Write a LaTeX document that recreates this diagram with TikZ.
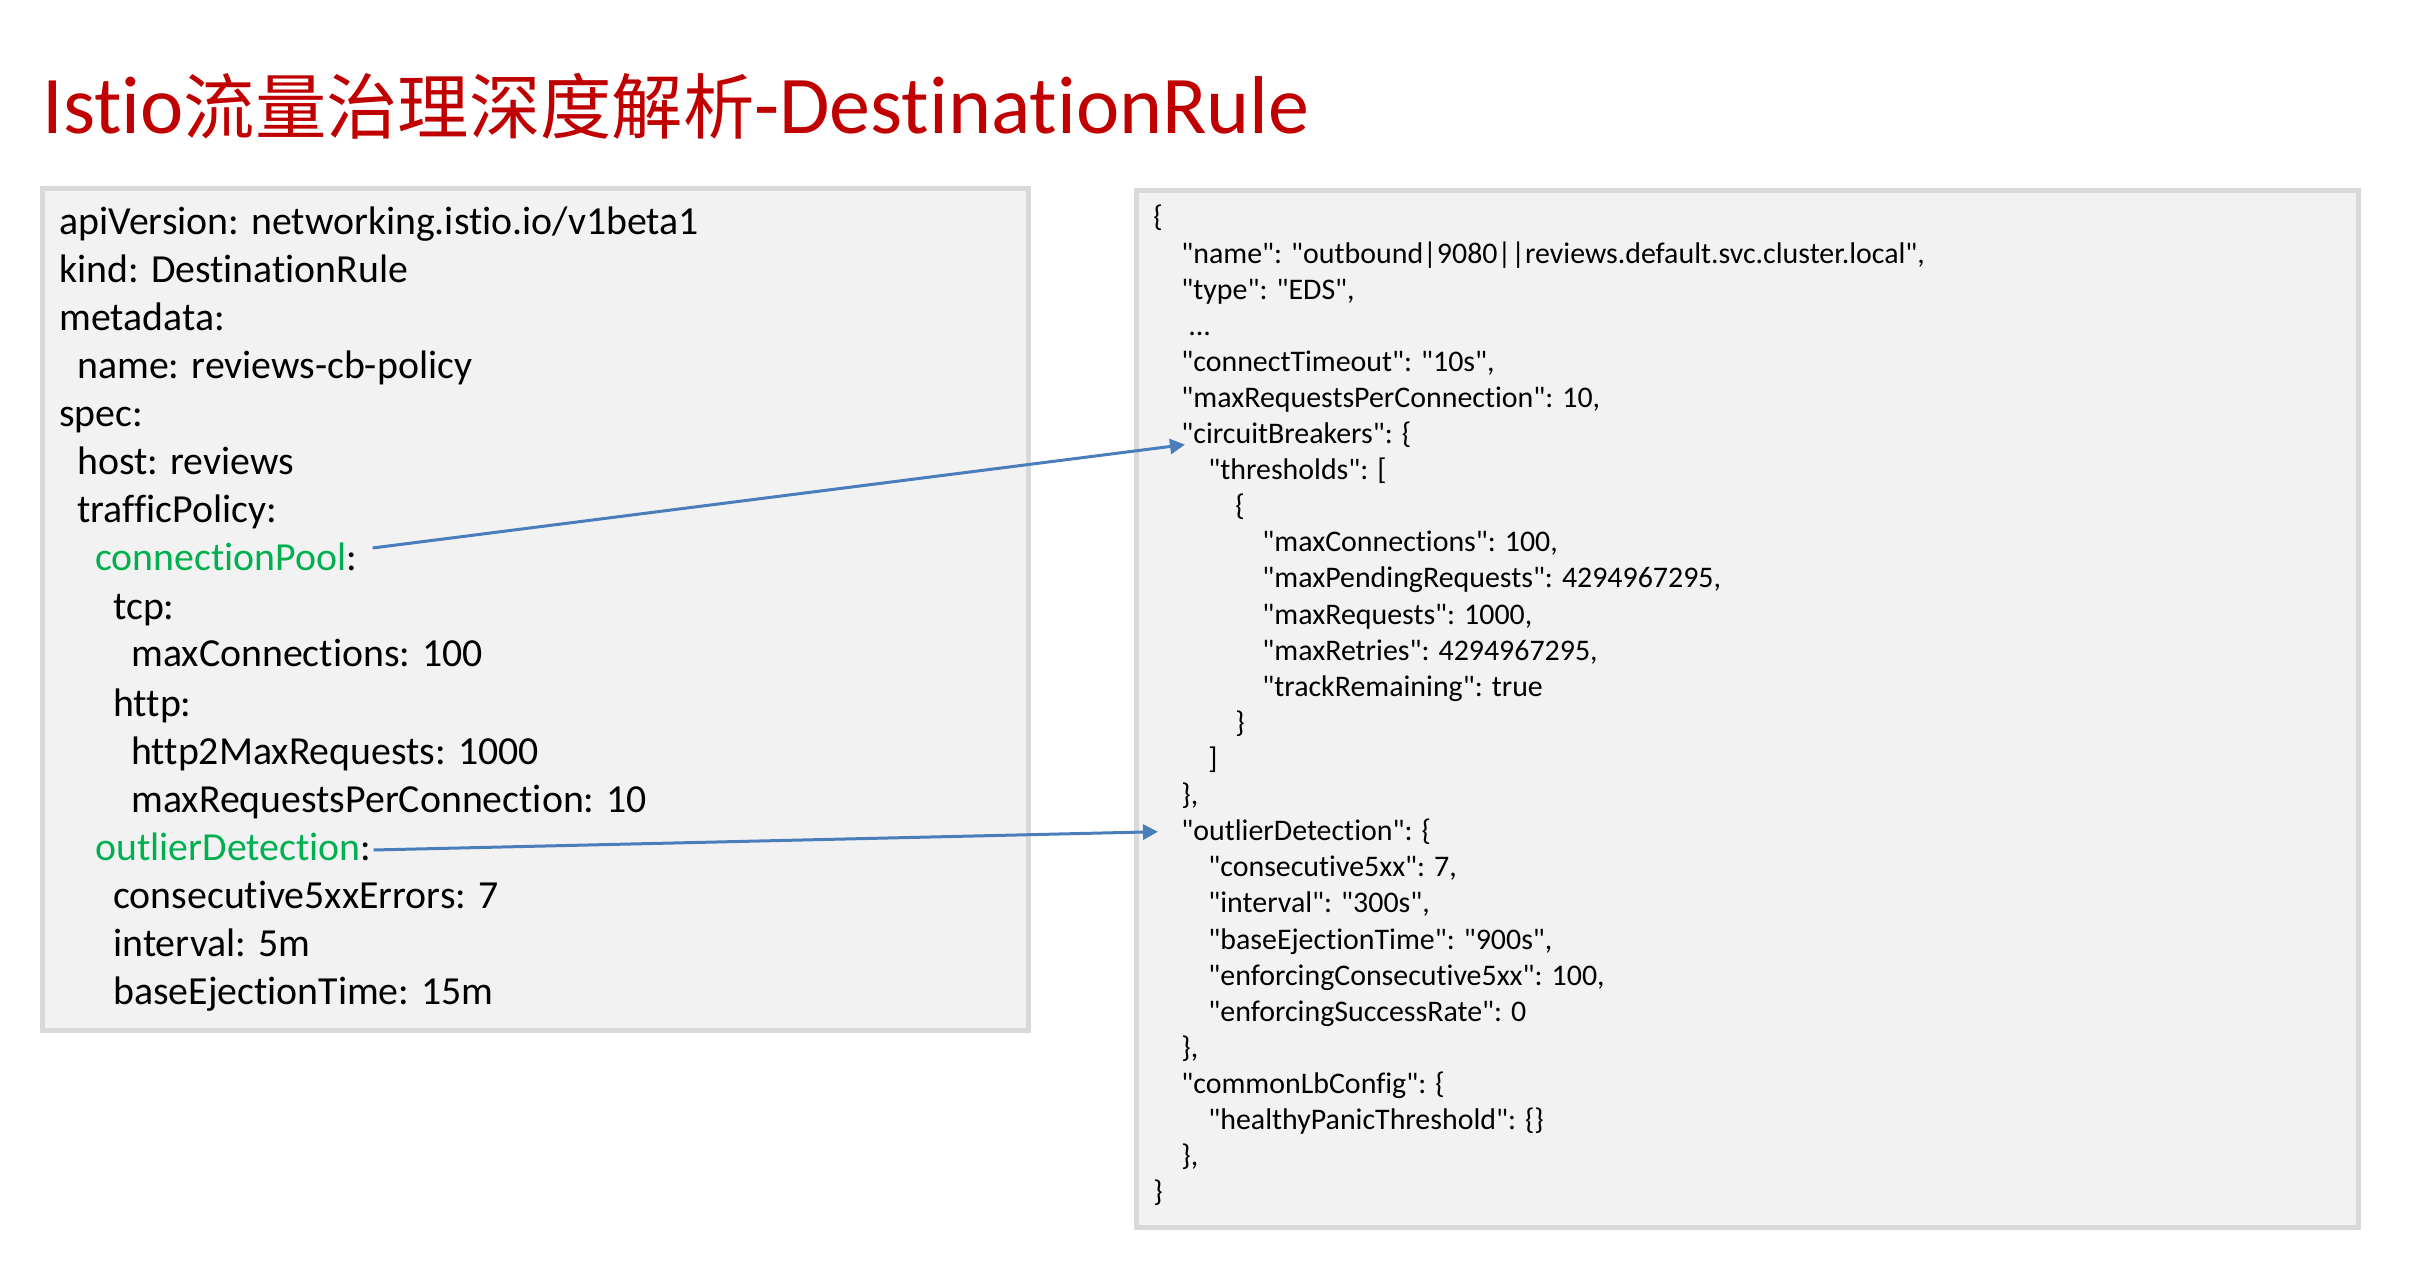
\documentclass[tikz,border=0pt]{standalone}
\usepackage{fontspec}
\setmainfont{Carlito}[Ligatures={TeXOff,NoCommon}]
\newfontfamily\cjk[Scale=0.87]{Noto Sans CJK SC}
\usetikzlibrary{arrows.meta}
\definecolor{titlered}{HTML}{C00000}
\definecolor{keygreen}{HTML}{00B050}
\definecolor{boxgray}{HTML}{F2F2F2}
\definecolor{edgegray}{HTML}{D9D9D9}
\definecolor{linkblue}{HTML}{4A7EBB}
\tikzset{
  yaml/.style={anchor=base west, inner sep=0pt, font=\fontsize{19.9}{23}\selectfont},
  json/.style={anchor=base west, inner sep=0pt, font=\fontsize{14.95}{18}\selectfont},
  codebox/.style={fill=boxgray, draw=edgegray, line width=2.5pt},
  link/.style={linkblue, line width=1.5pt, -{Triangle[length=7.5pt,width=7.5pt]}}
}

\begin{document}
\begin{tikzpicture}[x=0.5pt,y=-0.5pt]
    \useasboundingbox (0,0) rectangle (2427,1267);
    \node[anchor=base west, inner sep=0pt, text=titlered, font=\fontsize{41}{48}\selectfont] (title) at (42,134)
      {Istio{\cjk 流量治理深度解析}-DestinationRule};

    % the two code panels
    \draw[codebox] (42.5,188.5) rectangle (1028.5,1030.5);
    \draw[codebox] (1136.5,190.5) rectangle (2358.5,1227.5);

    % yaml side
    \node[yaml] (l1) at (59,235) {apiVersion: networking.istio.io/v1beta1};
    \node[yaml] (l2) at (59,283) {kind: DestinationRule};
    \node[yaml] (l3) at (59,331) {metadata:};
    \node[yaml] (l4) at (77,379) {name: reviews-cb-policy};
    \node[yaml] (l5) at (59,427) {spec:};
    \node[yaml] (l6) at (77,475) {host: reviews};
    \node[yaml] (l7) at (77,523) {trafficPolicy:};
    \node[yaml] (l8) at (95,571) {{\color{keygreen}connectionPool}:};
    \node[yaml] (l9) at (113,619) {tcp:};
    \node[yaml] (l10) at (131,667) {maxConnections: 100};
    \node[yaml] (l11) at (113,716) {http:};
    \node[yaml] (l12) at (131,764) {http2MaxRequests: 1000};
    \node[yaml] (l13) at (131,812) {maxRequestsPerConnection: 10};
    \node[yaml] (l14) at (95,860) {{\color{keygreen}outlierDetection}:};
    \node[yaml] (l15) at (113,908) {consecutive5xxErrors: 7};
    \node[yaml] (l16) at (113,956) {interval: 5m};
    \node[yaml] (l17) at (113,1004) {baseEjectionTime: 15m};

    % envoy cluster json side
    \node[json] (r1) at (1153,227) {\{};
    \node[json] (r2) at (1181,263.1) {"name": "outbound|9080||reviews.default.svc.cluster.local",};
    \node[json] (r3) at (1181,299.2) {"type": "EDS",};
    \node[json] (r4) at (1188,335.3) {...};
    \node[json] (r5) at (1181,371.4) {"connectTimeout": "10s",};
    \node[json] (r6) at (1181,407.5) {"maxRequestsPerConnection": 10,};
    \node[json] (r7) at (1181,443.6) {"circuitBreakers": \{};
    \node[json] (r8) at (1208,479.7) {"thresholds": [};
    \node[json] (r9) at (1235,515.8) {\{};
    \node[json] (r10) at (1262,551.9) {"maxConnections": 100,};
    \node[json] (r11) at (1262,588) {"maxPendingRequests": 4294967295,};
    \node[json] (r12) at (1262,624.1) {"maxRequests": 1000,};
    \node[json] (r13) at (1262,660.2) {"maxRetries": 4294967295,};
    \node[json] (r14) at (1262,696.3) {"trackRemaining": true};
    \node[json] (r15) at (1235,732.4) {\}};
    \node[json] (r16) at (1208,768.5) {]};
    \node[json] (r17) at (1181,804.6) {\},};
    \node[json] (r18) at (1181,840.7) {"outlierDetection": \{};
    \node[json] (r19) at (1208,876.8) {"consecutive5xx": 7,};
    \node[json] (r20) at (1208,912.9) {"interval": "300s",};
    \node[json] (r21) at (1208,949) {"baseEjectionTime": "900s",};
    \node[json] (r22) at (1208,985.1) {"enforcingConsecutive5xx": 100,};
    \node[json] (r23) at (1208,1021.2) {"enforcingSuccessRate": 0};
    \node[json] (r24) at (1181,1057.3) {\},};
    \node[json] (r25) at (1181,1093.4) {"commonLbConfig": \{};
    \node[json] (r26) at (1208,1129.5) {"healthyPanicThreshold": \{\}};
    \node[json] (r27) at (1181,1165.6) {\},};
    \node[json] (r28) at (1153,1201.7) {\}};

    % mapping arrows
    \draw[link] ([xshift=7.5pt,yshift=11.5pt]l8.base east) -- ([xshift=2pt,yshift=-0.5pt]r7.base west);
    \draw[link] ([xshift=1pt,yshift=5pt]l14.base east) -- ([xshift=-11.5pt,yshift=4.5pt]r18.base west);
\end{tikzpicture}
\end{document}
